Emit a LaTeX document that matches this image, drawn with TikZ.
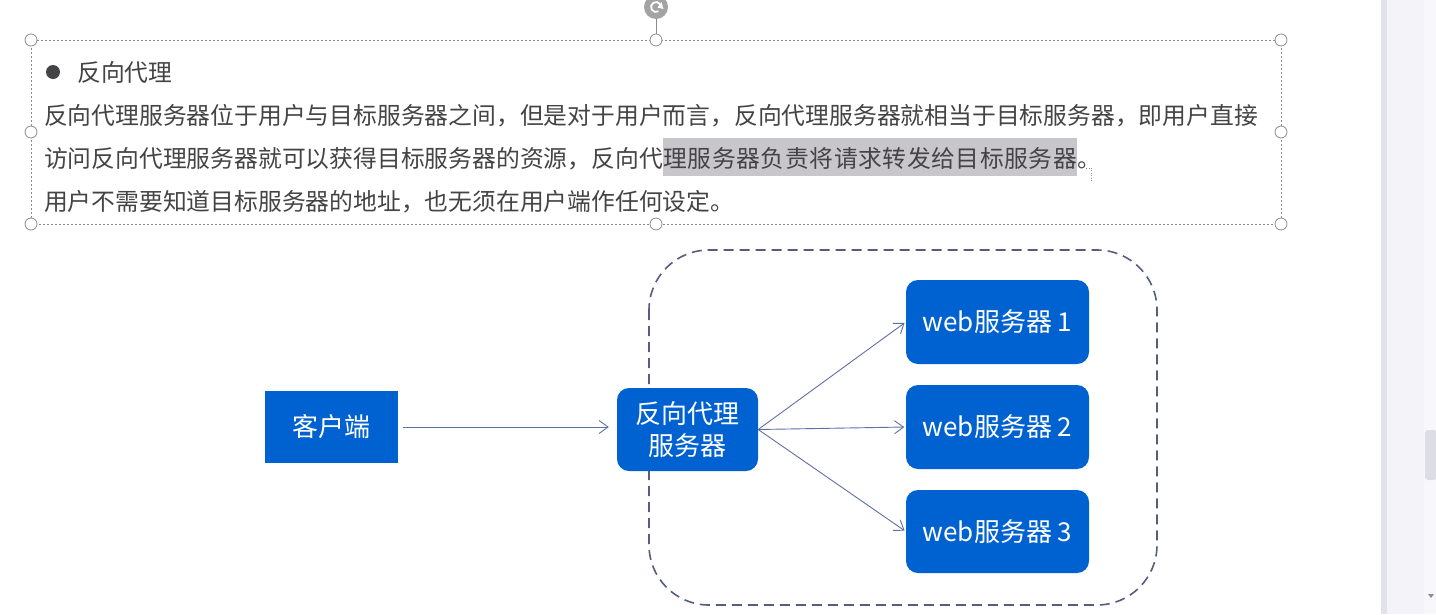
\documentclass[tikz,border=0pt]{standalone}
\usepackage{fontspec}
\newfontfamily\cjk{Noto Sans CJK SC}
\newfontfamily\cjkwide[LetterSpace=2.4]{Noto Sans CJK SC}
\usetikzlibrary{arrows.meta}
\definecolor{txt}{RGB}{68,68,70}
\definecolor{boxblue}{RGB}{0,98,209}
\definecolor{arr}{RGB}{95,112,168}
\definecolor{dashc}{RGB}{85,95,125}
\definecolor{hl}{RGB}{200,198,202}
\definecolor{handlec}{RGB}{140,140,140}
\definecolor{panel}{RGB}{243,243,249}
\definecolor{shadowc}{RGB}{226,226,233}
\definecolor{track}{RGB}{248,248,252}
\definecolor{thumb}{RGB}{221,221,230}
\begin{document}
\begin{tikzpicture}[x=1pt,y=-1pt,
  body/.style={anchor=base west, inner sep=0pt, text=txt, text height=21pt, text depth=3pt,
    font=\cjk\fontsize{23.8}{23.8}\selectfont},
  hlbox/.style={body, fill=hl, inner ysep=6pt, text height=23pt, text depth=3pt,
    font=\cjkwide\fontsize{23.8}{23.8}\selectfont},
  bluebox/.style={fill=boxblue, text=white, inner sep=0pt, align=center,
    font=\cjk\fontsize{26}{32}\selectfont},
  webbox/.style={bluebox, rounded corners=12pt, minimum width=183pt},
  conn/.style={draw=arr, line width=0.9pt, -{Straight Barb[length=9pt,width=13pt,line width=0.9pt]}},
  handle/.style={draw=handlec, fill=white, line width=0.8pt},
]
\useasboundingbox (0,0) rectangle (1436,614);
\fill[white] (0,0) rectangle (1436,614);

% right panel / scrollbar
\fill[shadowc] (1381,0) rectangle (1387,614);
\fill[panel] (1387,0) rectangle (1436,614);
\fill[track] (1424,0) rectangle (1436,614);
\fill[thumb, rounded corners=3pt] (1425,430) rectangle (1437,480);
\fill[handlec] (1428,594) -- (1434,594) -- (1431,598) -- cycle;

% selection frame of the text box
\draw[handlec, line width=0.8pt, dash pattern=on 2pt off 2pt] (31,40) rectangle (1281,224);
\draw[handlec, line width=0.8pt] (656,19) -- (656,34);
\fill[handlec!80] (656,7) circle (12pt);
\draw[white, line width=1.8pt] (656,7) ++(30:5pt) arc (30:300:5pt);
\fill[white] (661.5,2) -- (663.5,9) -- (657.5,7.5) -- cycle;
\foreach \p in {(31,40),(656,40),(1281,40),(31,132),(1281,132),(31,224),(656,224),(1281,224)}
  \draw[handle] \p circle (6pt);

% text
\fill[txt] (53,72) circle (7pt);
\node[body] (head) at (77,81) {反向代理};
\node[body] (l1) at (44,124) {反向代理服务器位于用户与目标服务器之间，但是对于用户而言，反向代理服务器就相当于目标服务器，即用户直接};
\node[body] (l2a) at (44,167) {访问反向代理服务器就可以获得目标服务器的资源，反向代};
\node[hlbox] (l2b) at (l2a.base east) {理服务器负责将请求转发给目标服务器};
\node[body] (l2c) at (l2b.base east) {。};
\draw[handlec, line width=0.8pt, dash pattern=on 1pt off 1.5pt] ([xshift=9pt,yshift=-1pt]l2c.base west) -- ([xshift=16pt,yshift=-1pt]l2c.base west) ([xshift=14pt,yshift=-3pt]l2c.base west) -- ([xshift=14pt,yshift=-15pt]l2c.base west);
\node[body] (l3) at (44,210) {用户不需要知道目标服务器的地址，也无须在用户端作任何设定。};

% diagram
\draw[dashc, line width=1.6pt, dash pattern=on 10pt off 6pt, rounded corners=60pt] (649,250) rectangle (1157,605);
\node[bluebox, minimum width=133pt, minimum height=72pt] (client) at (331.5,427) {客户端};
\node[bluebox, rounded corners=12pt, minimum width=141pt, minimum height=83pt] (proxy) at (687.5,429.5) {反向代理\\服务器};
\node[webbox, minimum height=84pt] (w1) at (997.5,322) {web服务器 1};
\node[webbox, minimum height=84pt] (w2) at (997.5,427) {web服务器 2};
\node[webbox, minimum height=83pt] (w3) at (997.5,531.5) {web服务器 3};

\draw[conn, shorten <=5pt, shorten >=8pt] (client.east) -- (client.east -| proxy.west);
\draw[conn, shorten >=1.5pt] (proxy.east) -- (w1.west);
\draw[conn, shorten >=1.5pt] (proxy.east) -- (w2.west);
\draw[conn, shorten >=1.5pt] (proxy.east) -- (w3.west);
\end{tikzpicture}
\end{document}
